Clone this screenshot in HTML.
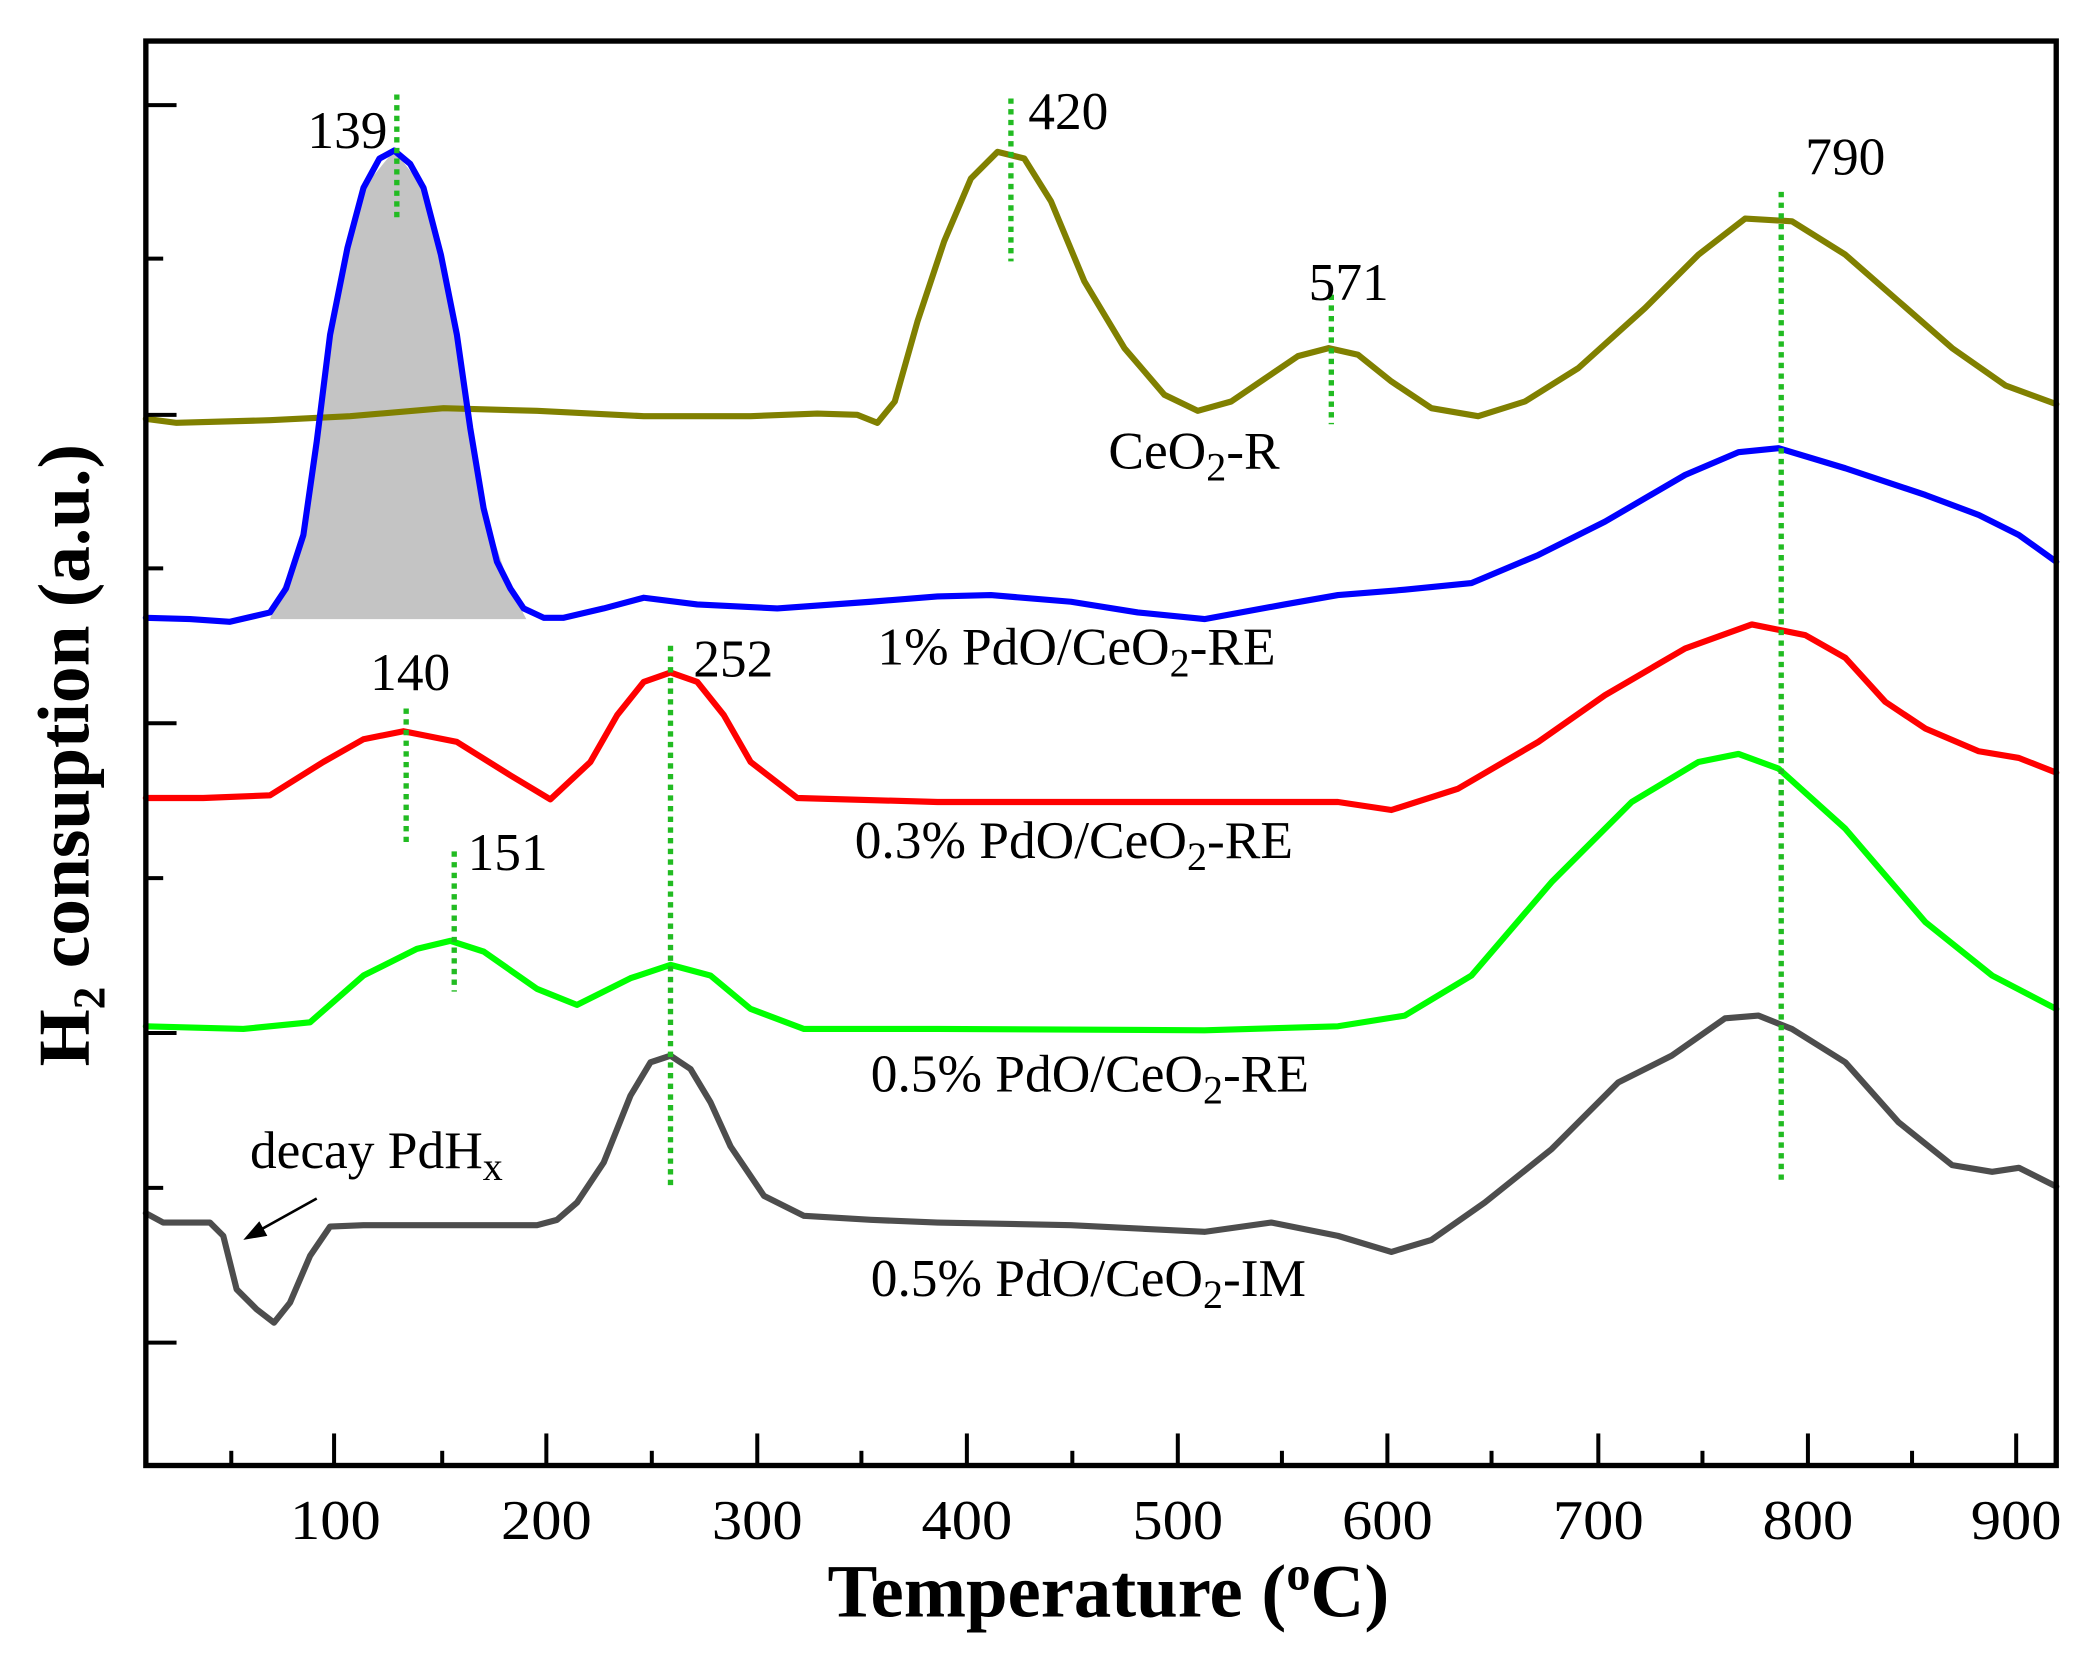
<!DOCTYPE html>
<html><head><meta charset="utf-8"><style>html,body{margin:0;padding:0;background:#fff}</style></head>
<body>
<svg width="2095" height="1654" viewBox="0 0 2095 1654" xmlns="http://www.w3.org/2000/svg">
<rect width="2095" height="1654" fill="#fff"/>
<g transform="translate(3,1) scale(1.335)" font-family="'Liberation Serif', serif">
<polygon fill="#c4c4c4" points="200,463 225,400 245,250 270,140 293,112 315,140 340,250 360,380 380,440 392,463"/>
<g fill="none" stroke-width="4.6" stroke-linejoin="round" stroke-linecap="round">
<polyline stroke="#808000" points="107,313 130,316 200,314 260,311 330,305 400,307 480,311 560,311 610,309 640,310 655,316 668,300 685,240 705,180 725,133 745,113 765,118 785,150 810,210 840,260 870,295 895,307 920,300 945,283 970,266 993,260 1015,265 1040,285 1070,305 1105,311 1140,300 1180,275 1230,230 1270,190 1305,163 1340,165 1380,190 1420,225 1460,260 1500,288 1538,302"/>
<polyline stroke="#0000ff" points="107,462 140,463 170,465 200,458 212,440 225,400 235,330 245,250 258,185 270,140 282,118 293,112 305,122 315,140 328,190 340,250 350,320 360,380 370,420 380,440 390,455 405,462 420,462 450,455 480,447 520,452 580,455 650,450 700,446 740,445 800,450 850,458 900,463 960,452 1000,445 1050,441 1100,436 1150,415 1200,390 1260,355 1300,338 1330,335 1380,350 1440,370 1480,385 1510,400 1538,420"/>
<polyline stroke="#ff0000" points="107,597 150,597 200,595 240,570 270,553 300,547 340,555 380,580 410,598 440,570 460,535 480,510 500,503 520,510 540,535 560,570 595,597 700,600 900,600 1000,600 1040,606 1090,590 1150,555 1200,520 1260,485 1310,467 1350,475 1380,492 1410,525 1440,545 1480,562 1510,567 1538,578"/>
<polyline stroke="#00ff00" points="107,768 180,770 230,765 270,730 310,710 335,704 360,712 400,740 430,752 470,732 500,722 530,730 560,755 600,770 700,770 900,771 1000,768 1050,760 1100,730 1160,660 1220,600 1270,570 1300,564 1330,575 1380,620 1440,690 1490,730 1538,755"/>
<polyline stroke="#4d4d4d" points="107,908 120,915 140,915 155,915 165,925 175,965 190,980 203,990 215,975 230,940 245,918 270,917 400,917 415,913 430,900 450,870 470,820 485,795 500,790 515,800 530,825 545,858 570,895 600,910 650,913 700,915 800,917 900,922 950,915 1000,925 1040,937 1070,928 1110,900 1160,860 1210,810 1250,790 1290,762 1315,760 1340,770 1380,795 1420,840 1460,872 1490,877 1510,874 1538,888"/>
</g>
<g stroke="#22bb22" stroke-width="4" stroke-dasharray="4,4" fill="none">
<line x1="295" y1="70" x2="295" y2="165"/>
<line x1="755" y1="73" x2="755" y2="195"/>
<line x1="995" y1="220" x2="995" y2="317"/>
<line x1="1332" y1="143" x2="1332" y2="887"/>
<line x1="302" y1="530" x2="302" y2="633"/>
<line x1="500" y1="483" x2="500" y2="890"/>
<line x1="338" y1="637" x2="338" y2="742"/>
</g>
<rect x="107" y="30" width="1431" height="1067" fill="none" stroke="#000" stroke-width="4"/>
<g stroke="#000" stroke-width="3">
<line x1="107" y1="78" x2="130" y2="78"/><line x1="107" y1="193" x2="120" y2="193"/>
<line x1="107" y1="310" x2="130" y2="310"/><line x1="107" y1="425" x2="120" y2="425"/>
<line x1="107" y1="541" x2="130" y2="541"/><line x1="107" y1="657" x2="120" y2="657"/>
<line x1="107" y1="773" x2="130" y2="773"/><line x1="107" y1="889" x2="120" y2="889"/>
<line x1="107" y1="1005" x2="130" y2="1005"/>
<line x1="248" y1="1097" x2="248" y2="1073"/><line x1="407" y1="1097" x2="407" y2="1073"/>
<line x1="565" y1="1097" x2="565" y2="1073"/><line x1="722" y1="1097" x2="722" y2="1073"/>
<line x1="880" y1="1097" x2="880" y2="1073"/><line x1="1037" y1="1097" x2="1037" y2="1073"/>
<line x1="1195" y1="1097" x2="1195" y2="1073"/><line x1="1352" y1="1097" x2="1352" y2="1073"/>
<line x1="1508" y1="1097" x2="1508" y2="1073"/>
<line x1="171" y1="1097" x2="171" y2="1086"/><line x1="329" y1="1097" x2="329" y2="1086"/>
<line x1="486" y1="1097" x2="486" y2="1086"/><line x1="643" y1="1097" x2="643" y2="1086"/>
<line x1="801" y1="1097" x2="801" y2="1086"/><line x1="958" y1="1097" x2="958" y2="1086"/>
<line x1="1115" y1="1097" x2="1115" y2="1086"/><line x1="1273" y1="1097" x2="1273" y2="1086"/>
<line x1="1430" y1="1097" x2="1430" y2="1086"/>
</g>
<g font-size="42" text-anchor="middle" fill="#000">
<text x="249" y="1152" textLength="68" lengthAdjust="spacingAndGlyphs">100</text>
<text x="407" y="1152" textLength="68" lengthAdjust="spacingAndGlyphs">200</text>
<text x="565" y="1152" textLength="68" lengthAdjust="spacingAndGlyphs">300</text>
<text x="722" y="1152" textLength="68" lengthAdjust="spacingAndGlyphs">400</text>
<text x="880" y="1152" textLength="68" lengthAdjust="spacingAndGlyphs">500</text>
<text x="1037" y="1152" textLength="68" lengthAdjust="spacingAndGlyphs">600</text>
<text x="1195" y="1152" textLength="68" lengthAdjust="spacingAndGlyphs">700</text>
<text x="1352" y="1152" textLength="68" lengthAdjust="spacingAndGlyphs">800</text>
<text x="1508" y="1152" textLength="68" lengthAdjust="spacingAndGlyphs">900</text>
</g>
<text x="828" y="1210" font-size="56" font-weight="bold" text-anchor="middle">Temperature (<tspan font-size="36" dy="-20">o</tspan><tspan dy="20">C)</tspan></text>
<text transform="translate(64,565) rotate(-90)" font-size="55" font-weight="bold" text-anchor="middle">H<tspan font-size="34" dy="12">2</tspan><tspan dy="-12"> consuption (a.u.)</tspan></text>
<g font-size="40" fill="#000">
<text x="228" y="110">139</text>
<text x="768" y="96">420</text>
<text x="1350" y="130">790</text>
<text x="978" y="224">571</text>
<text x="828" y="350">CeO<tspan font-size="30" dy="9">2</tspan><tspan dy="-9">-R</tspan></text>
<text x="655" y="497">1% PdO/CeO<tspan font-size="30" dy="9">2</tspan><tspan dy="-9">-RE</tspan></text>
<text x="275" y="516">140</text>
<text x="517" y="506">252</text>
<text x="638" y="642">0.3% PdO/CeO<tspan font-size="30" dy="9">2</tspan><tspan dy="-9">-RE</tspan></text>
<text x="348" y="651">151</text>
<text x="650" y="817">0.5% PdO/CeO<tspan font-size="30" dy="9">2</tspan><tspan dy="-9">-RE</tspan></text>
<text x="185" y="874">decay PdH<tspan font-size="30" dy="9">x</tspan></text>
<text x="650" y="970">0.5% PdO/CeO<tspan font-size="30" dy="9">2</tspan><tspan dy="-9">-IM</tspan></text>
</g>
<line x1="235" y1="897" x2="190" y2="922" stroke="#000" stroke-width="2"/>
<polygon points="180,928 192,914 198,925" fill="#000"/>
</g>
</svg>
</body></html>
